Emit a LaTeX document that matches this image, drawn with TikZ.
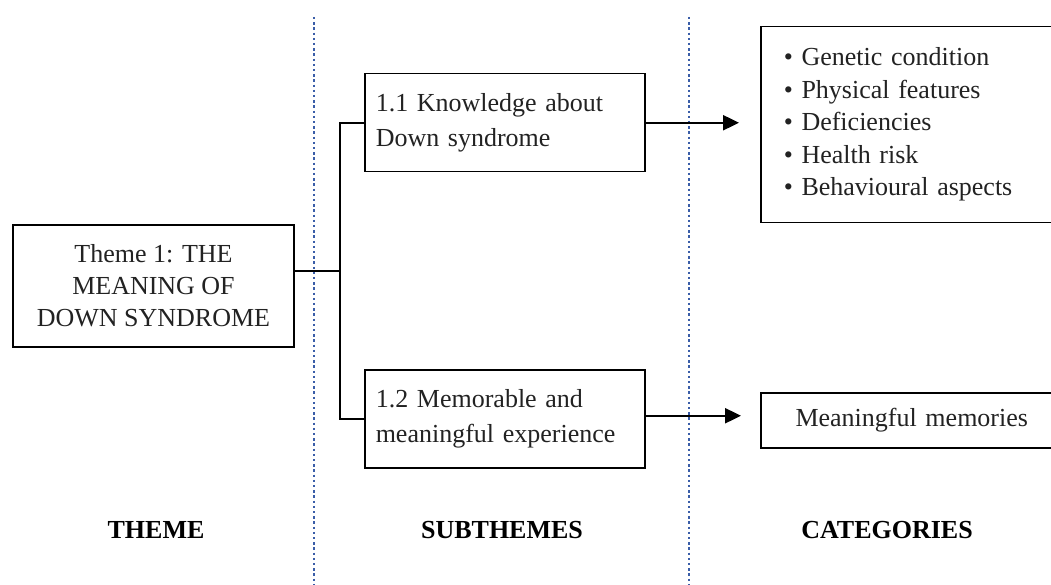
\documentclass[tikz,border=0pt]{standalone}
\usepackage{fontspec}
\setmainfont{Liberation Serif}
\usepackage{xcolor}
\definecolor{DividerBlue}{HTML}{3A5DA8}
\definecolor{TextGrey}{HTML}{222222}
\usepackage{tikz}
\usetikzlibrary{arrows.meta,positioning}
\tikzset{
  themebox/.style={
    draw=black,
    line width=1.5pt,
    minimum width=281pt,
    minimum height=122pt,
    inner sep=0pt,
    align=center,
    text=TextGrey,
    font=\fontsize{26}{32}\selectfont
  },
  subbox/.style={
    draw=black,
    line width=1.5pt,
    anchor=north west,
    text width=258pt,
    inner xsep=11pt,
    inner ysep=0pt,
    minimum height=98pt,
    align=left,
    text=TextGrey,
    font=\fontsize{26}{35}\selectfont
  },
  catbox/.style={
    draw=black,
    line width=1.5pt,
    anchor=north west,
    text width=256pt,
    inner xsep=23pt,
    inner ysep=0pt,
    align=left,
    text=TextGrey,
    font=\fontsize{26}{32.5}\selectfont
  },
  headlabel/.style={
    anchor=base,
    inner sep=0pt,
    font=\fontsize{26}{30}\selectfont\bfseries
  },
  branchline/.style={
    draw=black,
    line width=2pt
  },
  arrowline/.style={
    draw=black,
    line width=2.4pt,
    -{Triangle[length=16pt,width=15pt]}
  },
  divider/.style={
    draw=DividerBlue,
    line width=2.6pt,
    dash pattern=on 2.4pt off 2.8pt
  }
}

\begin{document}
\begin{tikzpicture}[x=1pt,y=-1pt]
  \useasboundingbox (0,0) rectangle (1051,585);
  \clip (0,0) rectangle (1051,585);
  % column dividers
  \draw[divider] (314,17) -- (314,585);
  \draw[divider] (689,17) -- (689,585);
  % boxes
  \node[themebox] (theme) at (153.5,286) {Theme 1: THE\\MEANING OF\\DOWN SYNDROME};
  \node[subbox] (know) at (364,73) {1.1 Knowledge about\\Down syndrome};
  \node[subbox] (memo) at (364,369) {1.2 Memorable and\\meaningful experience};
  \node[catbox,minimum height=196pt] (facts) at (760,26) {\textbullet\ Genetic condition\\\textbullet\ Physical features\\\textbullet\ Deficiencies\\\textbullet\ Health risk\\\textbullet\ Behavioural aspects};
  \node[catbox,minimum height=55pt,align=center] (memories) at (760,392) {Meaningful memories};
  % fork
  \coordinate (fork) at (340,271);
  \draw[branchline] (theme.east |- fork) -- (fork);
  \draw[branchline] (know.west) -- (fork |- know.west) -- (fork |- memo.west) -- (memo.west);
  \draw[arrowline,shorten >=21pt] (know.east) -- (know.east -| facts.west);
  \draw[arrowline,shorten >=19pt] ([yshift=3pt]memo.east) -- ([yshift=3pt]memo.east -| memories.west);
  % column heads
  \node[headlabel] (themehead) at (156,538) {THEME};
  \node[headlabel] (subhead) at (502,538) {SUBTHEMES};
  \node[headlabel] (cathead) at (887,538) {CATEGORIES};
\end{tikzpicture}
\end{document}
